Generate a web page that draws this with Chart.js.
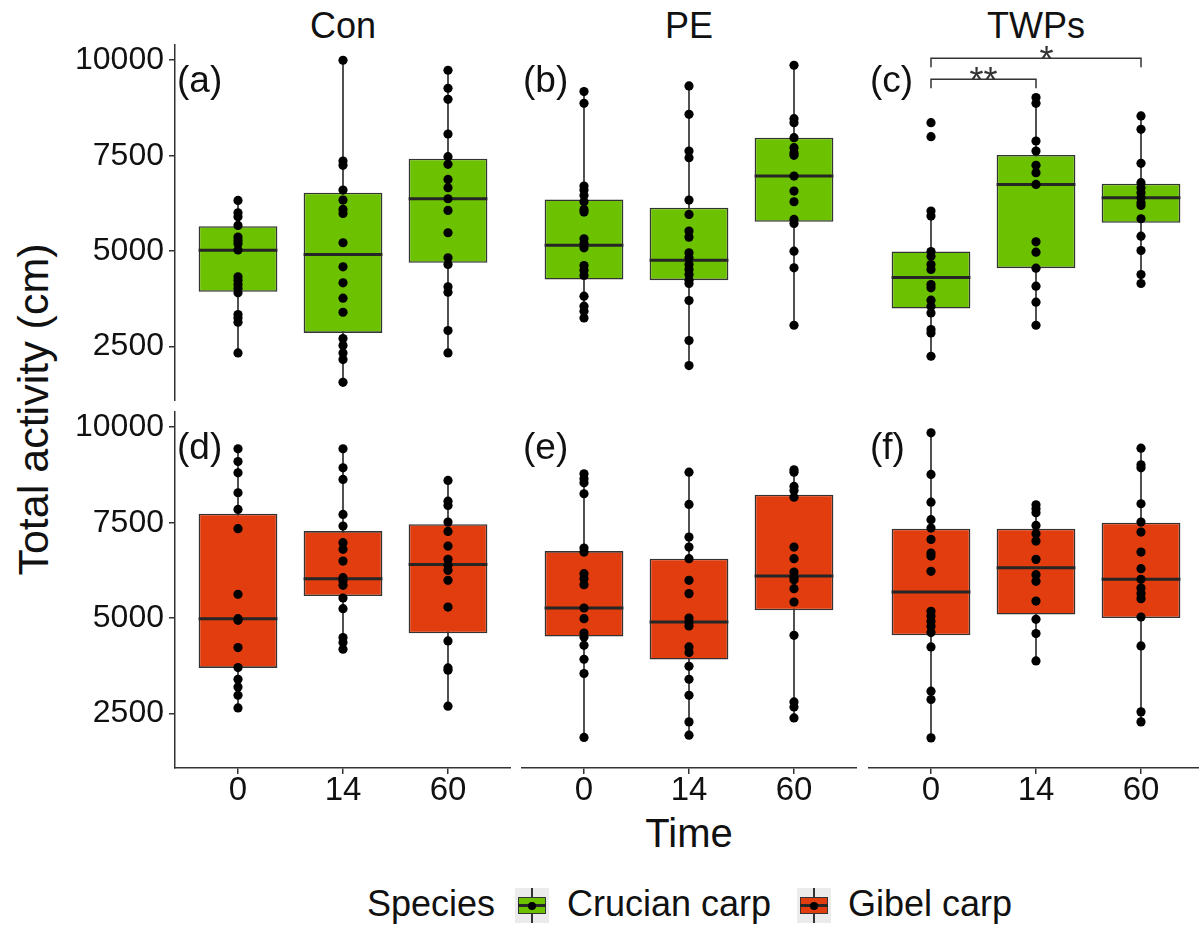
<!DOCTYPE html>
<html lang="en">
<head>
<meta charset="UTF-8">
<title>Total activity</title>
<script src="https://cdn.jsdelivr.net/npm/chart.js"></script>
<style>
    html, body { margin: 0; padding: 0; background: #fff; overflow: hidden; }
    body { width: 1199px; height: 928px; position: relative; font-family: "Liberation Sans", Arial, sans-serif; color: #111; }
    canvas { position: absolute; }
    .txt { position: absolute; line-height: 1; white-space: nowrap; }
    .strip { font-size: 36px; top: 8px; width: 200px; text-align: center; }
    .ytitle { font-size: 43px; line-height: 43px; left: -217px; top: 388px; width: 500px; text-align: center; transform: rotate(-90deg); }
    .xtitle { font-size: 40px; top: 813px; left: 489px; width: 400px; text-align: center; }
    .leg { font-size: 36px; top: 886px; }
    .key { position: absolute; top: 888px; width: 34px; height: 35px; background: #ebebeb; }
    .key div { position: absolute; }
    .kw { left: 16px; top: 0; width: 1.5px; height: 35px; background: #333; }
    .kb { left: 3px; top: 9px; width: 28px; height: 17px; box-sizing: border-box; border: 1.5px solid #333; }
    .km { left: 3px; top: 16px; width: 28px; height: 3px; background: #262626; }
    .kd { left: 13px; top: 13.5px; width: 8px; height: 8px; border-radius: 50%; background: #000; }
</style>
</head>
<body>
<div class="txt strip" style="left:243px">Con</div>
<div class="txt strip" style="left:589px">PE</div>
<div class="txt strip" style="left:936px">TWPs</div>
<div class="txt ytitle">Total activity (cm)</div>
<div class="txt xtitle">Time</div>
<div class="txt leg" style="left:367px">Species</div>
<div class="key" style="left:515px"><div class="kw"></div><div class="kb" style="background:#6cc100"></div><div class="km"></div><div class="kd"></div></div>
<div class="txt leg" style="left:567px">Crucian carp</div>
<div class="key" style="left:797px"><div class="kw"></div><div class="kb" style="background:#e13d0f"></div><div class="km"></div><div class="kd"></div></div>
<div class="txt leg" style="left:848px">Gibel carp</div>

<script>
    const FONT = '"Liberation Sans", Arial, sans-serif';

    const timeLabels = ['0', '14', '60'];
    const treatments = ['Con', 'PE', 'TWPs'];
    const speciesNames = ['Crucian carp', 'Gibel carp'];
    const speciesColors = ['#6cc100', '#e13d0f'];
    const panelTags = [['(a)', '(b)', '(c)'], ['(d)', '(e)', '(f)']];
    const yTicks = [2500, 5000, 7500, 10000];

    // individual fish, one list per time point (0, 14, 60)
    const crucianCon = [
        [6329, 6005, 5900, 5673, 5367, 5280, 5192, 5030, 4327, 4240, 4126, 4021, 3907, 3339, 3252, 3138, 2334],
        [10000, 7360, 7247, 6600, 6337, 6093, 5988, 5219, 4589, 4170, 3767, 3400, 2710, 2526, 2334, 2159, 1565],
        [9738, 9266, 8977, 8068, 7474, 7273, 6879, 6661, 6372, 6066, 5481, 4825, 4650, 4065, 3924, 2919, 2334]
    ];
    const crucianPE = [
        [9178, 8872, 6705, 6600, 6460, 6294, 6093, 6023, 5324, 5201, 5087, 4624, 4502, 4362, 3820, 3558, 3427, 3252],
        [9327, 8584, 7623, 7448, 6337, 5962, 5525, 5367, 4956, 4825, 4650, 4519, 4388, 4240, 4152, 3706, 2657, 2002],
        [9869, 8470, 8365, 7972, 7710, 7579, 7509, 6967, 6573, 6294, 5830, 5725, 5000, 4563, 3059]
    ];
    const crucianTWPs = [
        [8365, 7998, 6049, 5918, 4991, 4868, 4650, 4519, 4126, 4038, 3715, 3558, 3382, 2946, 2858, 2247],
        [9021, 8872, 7885, 7623, 7247, 7054, 6748, 5245, 4974, 4554, 4082, 3662, 3059],
        [8540, 8191, 7299, 6792, 6661, 6530, 6399, 6268, 6198, 5848, 5393, 5017, 4388, 4152]
    ];
    const gibelCon = [
        [9435, 9103, 8807, 8284, 7847, 7342, 5623, 4987, 4943, 4229, 3706, 3400, 3198, 2981, 2649],
        [9435, 8938, 8632, 7716, 7410, 6976, 6801, 6495, 6060, 5971, 5859, 5527, 5249, 4491, 4360, 4185],
        [8606, 8064, 7952, 7515, 7271, 6887, 6539, 6382, 6251, 5990, 5291, 4402, 3695, 3635, 2693]
    ];
    const gibelPE = [
        [8781, 8650, 8545, 8258, 6835, 6730, 6165, 6034, 5877, 5265, 4987, 4611, 4506, 4289, 3923, 3549, 1875],
        [8823, 7978, 7122, 6861, 6557, 5990, 5642, 5003, 4899, 4794, 4245, 4098, 3740, 3400, 2981, 2283, 1935],
        [8886, 8823, 8449, 8344, 8169, 6861, 6557, 6207, 6076, 6008, 5772, 5422, 4551, 2806, 2675, 2387]
    ];
    const gibelTWPs = [
        [9853, 8763, 8038, 7578, 7358, 7062, 6704, 6625, 6225, 5179, 5056, 4917, 4786, 4621, 4245, 3086, 2869, 1864],
        [7970, 7865, 7761, 7428, 7211, 7018, 6539, 6139, 5963, 5448, 4969, 4595, 3879],
        [9451, 9016, 8938, 7996, 7515, 7253, 6730, 6296, 6016, 5788, 5642, 5511, 5030, 4271, 2545, 2283]
    ];

    // box summaries: [lower whisker, Q1, median, Q3, upper whisker]
    const crucianConBox = [[2334, 3934, 5026, 5655, 6329], [1565, 2858, 4913, 6530, 10000], [2334, 4694, 6372, 7421, 9738]];
    const crucianPEBox = [[3252, 4257, 5157, 6355, 9178], [2002, 4240, 4764, 6137, 9327], [3059, 5769, 6967, 7972, 9869]];
    const crucianTWPsBox = [[2247, 3496, 4309, 4991, 6049], [3059, 4554, 6748, 7518, 9021], [4152, 5743, 6399, 6766, 8540]];
    const gibelConBox = [[2649, 3695, 4987, 7734, 9435], [4185, 5579, 6034, 7279, 9435], [2693, 4603, 6408, 7462, 8606]];
    const gibelPEBox = [[1875, 4517, 5265, 6756, 8781], [1935, 3915, 4899, 6557, 8823], [2387, 5205, 6102, 8232, 8886]];
    const gibelTWPsBox = [[1864, 4551, 5684, 7342, 9853], [3879, 5092, 6322, 7342, 7970], [2283, 5003, 6016, 7499, 9451]];

    // significance brackets (Crucian carp, TWPs)
    const sigPairs = [[0, 1], [0, 2]];
    const sigLevels = [9502, 10052];
    const sigTip = 235;
    const sigLabels = ['**', '*'];
    const sigLabelX = [0.5, 1.1];

    const tagY = 9170;

    const points = [[crucianCon, crucianPE, crucianTWPs], [gibelCon, gibelPE, gibelTWPs]];
    const boxes = [[crucianConBox, crucianPEBox, crucianTWPsBox], [gibelConBox, gibelPEBox, gibelTWPsBox]];

    // layout of the facets on the page
    const colLeft = [175, 521, 868];
    const rowTop = [44, 411];
    const panelW = 336, panelH = 357;
    const yAxisW = 120, xAxisH = 60;

    const panelText = {
        id: 'panelText',
        afterDatasetsDraw(chart, args, opts) {
            const { ctx, chartArea, scales: { x, y } } = chart;
            ctx.save();
            ctx.fillStyle = '#111';
            ctx.textBaseline = 'alphabetic';
            ctx.textAlign = 'left';
            ctx.font = '37px ' + FONT;
            ctx.fillText(opts.tag, chartArea.left + 2, y.getPixelForValue(tagY));
            if (opts.sig) {
                ctx.fillStyle = '#333';
                ctx.textAlign = 'center';
                ctx.font = '36px ' + FONT;
                sigLabels.forEach((lab, k) => {
                    ctx.fillText(lab, x.getPixelForValue(sigLabelX[k]), y.getPixelForValue(sigLevels[k]) + 14);
                });
            }
            ctx.restore();
        }
    };

    function makePanel(row, col) {
        const canvas = document.createElement('canvas');
        const hasY = col === 0, hasX = row === 1;
        canvas.width = panelW + (hasY ? yAxisW : 0);
        canvas.height = panelH + (hasX ? xAxisH : 0);
        canvas.style.left = (colLeft[col] - (hasY ? yAxisW : 0)) + 'px';
        canvas.style.top = rowTop[row] + 'px';
        document.body.appendChild(canvas);

        const pts = points[row][col];
        const bx = boxes[row][col];

        const scatterData = [];
        pts.forEach((vals, i) => vals.forEach(v => scatterData.push({ x: i, y: v })));

        const whiskerData = [], medianData = [];
        bx.forEach((b, i) => {
            whiskerData.push({ x: i, y: b[0] }, { x: i, y: b[4] }, { x: i, y: null });
            medianData.push({ x: i - 0.375, y: b[2] }, { x: i + 0.375, y: b[2] }, { x: i + 0.375, y: null });
        });

        const datasets = [
            {
                type: 'scatter', label: speciesNames[row], data: scatterData, order: 0,
                pointRadius: 4.6, pointBackgroundColor: '#000', pointBorderWidth: 0
            },
            {
                type: 'line', data: medianData, order: 1, borderColor: '#262626', borderWidth: 3,
                pointRadius: 0, spanGaps: false, fill: false
            },
            {
                type: 'bar', data: bx.map((b, i) => ({ x: i, y: [b[1], b[3]] })), order: 2,
                backgroundColor: speciesColors[row], borderColor: '#333', borderWidth: 1.6,
                borderSkipped: false, barPercentage: 0.75, categoryPercentage: 1
            },
            {
                type: 'line', data: whiskerData, order: 3, borderColor: '#262626', borderWidth: 1.6,
                pointRadius: 0, spanGaps: false, fill: false
            }
        ];

        const isSig = row === 0 && col === 2;
        if (isSig) {
            const bracket = [];
            sigPairs.forEach((p, k) => {
                bracket.push(
                    { x: p[0], y: sigLevels[k] - sigTip }, { x: p[0], y: sigLevels[k] },
                    { x: p[1], y: sigLevels[k] }, { x: p[1], y: sigLevels[k] - sigTip },
                    { x: p[1], y: null }
                );
            });
            datasets.push({
                type: 'line', data: bracket, order: 0, borderColor: '#333', borderWidth: 1.5,
                pointRadius: 0, spanGaps: false, fill: false
            });
        }

        new Chart(canvas, {
            type: 'bar',
            data: { datasets },
            plugins: [panelText],
            options: {
                responsive: false,
                animation: false,
                layout: { padding: 0, autoPadding: false },
                plugins: {
                    legend: { display: false },
                    tooltip: { enabled: false },
                    panelText: { tag: panelTags[row][col], sig: isSig }
                },
                scales: {
                    x: {
                        type: 'linear', min: -0.6, max: 2.6, offset: false,
                        display: hasX,
                        afterBuildTicks: s => { s.ticks = timeLabels.map((t, i) => ({ value: i })); },
                        afterFit: s => {
                            if (hasX) s.height = xAxisH;
                            s.paddingLeft = 0; s.paddingRight = 0;
                        },
                        grid: { display: true, drawOnChartArea: false, drawTicks: true, tickLength: 6, color: '#333', lineWidth: 1.5, offset: false },
                        border: { display: true, color: '#333', width: 1.5 },
                        ticks: {
                            font: { family: FONT, size: 33, lineHeight: 1 }, color: '#111', padding: 0,
                            maxRotation: 0, autoSkip: false,
                            callback: (v, i) => timeLabels[i]
                        }
                    },
                    y: {
                        type: 'linear', min: 1075, max: 10425,
                        display: hasY,
                        afterBuildTicks: s => { s.ticks = yTicks.map(v => ({ value: v })); },
                        afterFit: s => {
                            if (hasY) s.width = yAxisW;
                            s.paddingTop = 0; s.paddingBottom = 0;
                        },
                        grid: { display: true, drawOnChartArea: false, drawTicks: true, tickLength: 6, color: '#333', lineWidth: 1.5 },
                        border: { display: true, color: '#333', width: 1.5 },
                        ticks: {
                            font: { family: FONT, size: 32 }, color: '#111', padding: 5,
                            callback: v => String(v)
                        }
                    }
                }
            }
        });
    }

    for (let r = 0; r < 2; r++) {
        for (let c = 0; c < 3; c++) makePanel(r, c);
    }
</script>
</body>
</html>
